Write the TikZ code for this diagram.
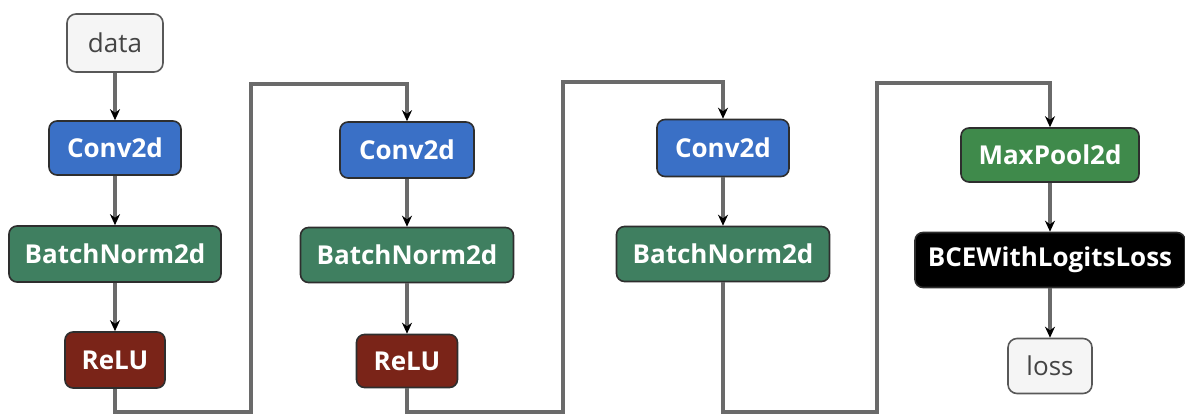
\documentclass[tikz,border=0pt]{standalone}
\usepackage{fontspec}
\setmainfont{Open Sans}
\usetikzlibrary{arrows.meta}
\definecolor{convblue}{HTML}{3A70C6}
\definecolor{bngreen}{HTML}{3F7F60}
\definecolor{relured}{HTML}{7A2418}
\definecolor{mpgreen}{HTML}{3F8A4B}
\definecolor{wirecol}{HTML}{6A6A6A}
\definecolor{boxedge}{HTML}{2E2E2E}
\definecolor{iofill}{HTML}{F5F5F5}
\definecolor{iotext}{HTML}{444444}
\tikzset{
  layer/.style={draw=boxedge, line width=1.6pt, rounded corners=8pt, inner sep=0pt,
    text=white, font=\fontsize{26}{30}\selectfont\bfseries},
  iobox/.style={draw=boxedge!80, line width=1.6pt, rounded corners=9pt, inner sep=0pt,
    fill=iofill, text=iotext, font=\fontsize{26}{30}\selectfont},
  wire/.style={draw=wirecol, line width=3.2pt},
  flow/.style={wire, -{Stealth[length=11pt,width=10pt,color=black]}}
}
\begin{document}
\begin{tikzpicture}[x=1pt,y=-1pt]
\useasboundingbox (0,0) rectangle (1185,416);
% column 1
\node[iobox, minimum width=96pt, minimum height=58pt] (data) at (115,43) {data};
\node[layer, fill=convblue, minimum width=132pt, minimum height=54pt] (conva) at (115,148) {Conv2d};
\node[layer, fill=bngreen, minimum width=212pt, minimum height=56pt] (bna) at (115,254) {BatchNorm2d};
\node[layer, fill=relured, minimum width=100pt, minimum height=56pt] (relua) at (115,360) {ReLU};
% column 2
\node[layer, fill=convblue, minimum width=134pt, minimum height=56pt] (convb) at (407,150) {Conv2d};
\node[layer, fill=bngreen, minimum width=213pt, minimum height=55pt] (bnb) at (407,255) {BatchNorm2d};
\node[layer, fill=relured, minimum width=101pt, minimum height=53pt] (relub) at (407,361) {ReLU};
% column 3
\node[layer, fill=convblue, minimum width=132pt, minimum height=57pt] (convc) at (723,148) {Conv2d};
\node[layer, fill=bngreen, minimum width=213pt, minimum height=55pt] (bnc) at (723,254) {BatchNorm2d};
% column 4
\node[layer, fill=mpgreen, minimum width=178pt, minimum height=54pt] (mp) at (1050,155) {MaxPool2d};
\node[layer, fill=black, minimum width=270pt, minimum height=55pt] (bce) at (1050,260) {BCEWithLogitsLoss};
\node[iobox, minimum width=84pt, minimum height=55pt] (loss) at (1050,366) {loss};
% routing corners
\coordinate (a1) at (115,412); \coordinate (a2) at (251,412);
\coordinate (a3) at (251,84);  \coordinate (a4) at (407,84);
\coordinate (b1) at (407,412); \coordinate (b2) at (563,412);
\coordinate (b3) at (563,82);  \coordinate (b4) at (723,82);
\coordinate (c1) at (723,412); \coordinate (c2) at (877,412);
\coordinate (c3) at (877,83);  \coordinate (c4) at (1050,83);
% connectors
\draw[flow] (data) -- (conva);
\draw[flow] (conva) -- (bna);
\draw[flow] (bna) -- (relua);
\draw[flow] (relua.south) -- (a1) -- (a2) -- (a3) -- (a4) -- (convb.north);
\draw[flow] (convb) -- (bnb);
\draw[flow] (bnb) -- (relub);
\draw[flow] (relub.south) -- (b1) -- (b2) -- (b3) -- (b4) -- (convc.north);
\draw[flow] (convc) -- (bnc);
\draw[flow] (bnc.south) -- (c1) -- (c2) -- (c3) -- (c4) -- (mp.north);
\draw[flow] (mp) -- (bce);
\draw[flow] (bce) -- (loss);
\end{tikzpicture}
\end{document}
